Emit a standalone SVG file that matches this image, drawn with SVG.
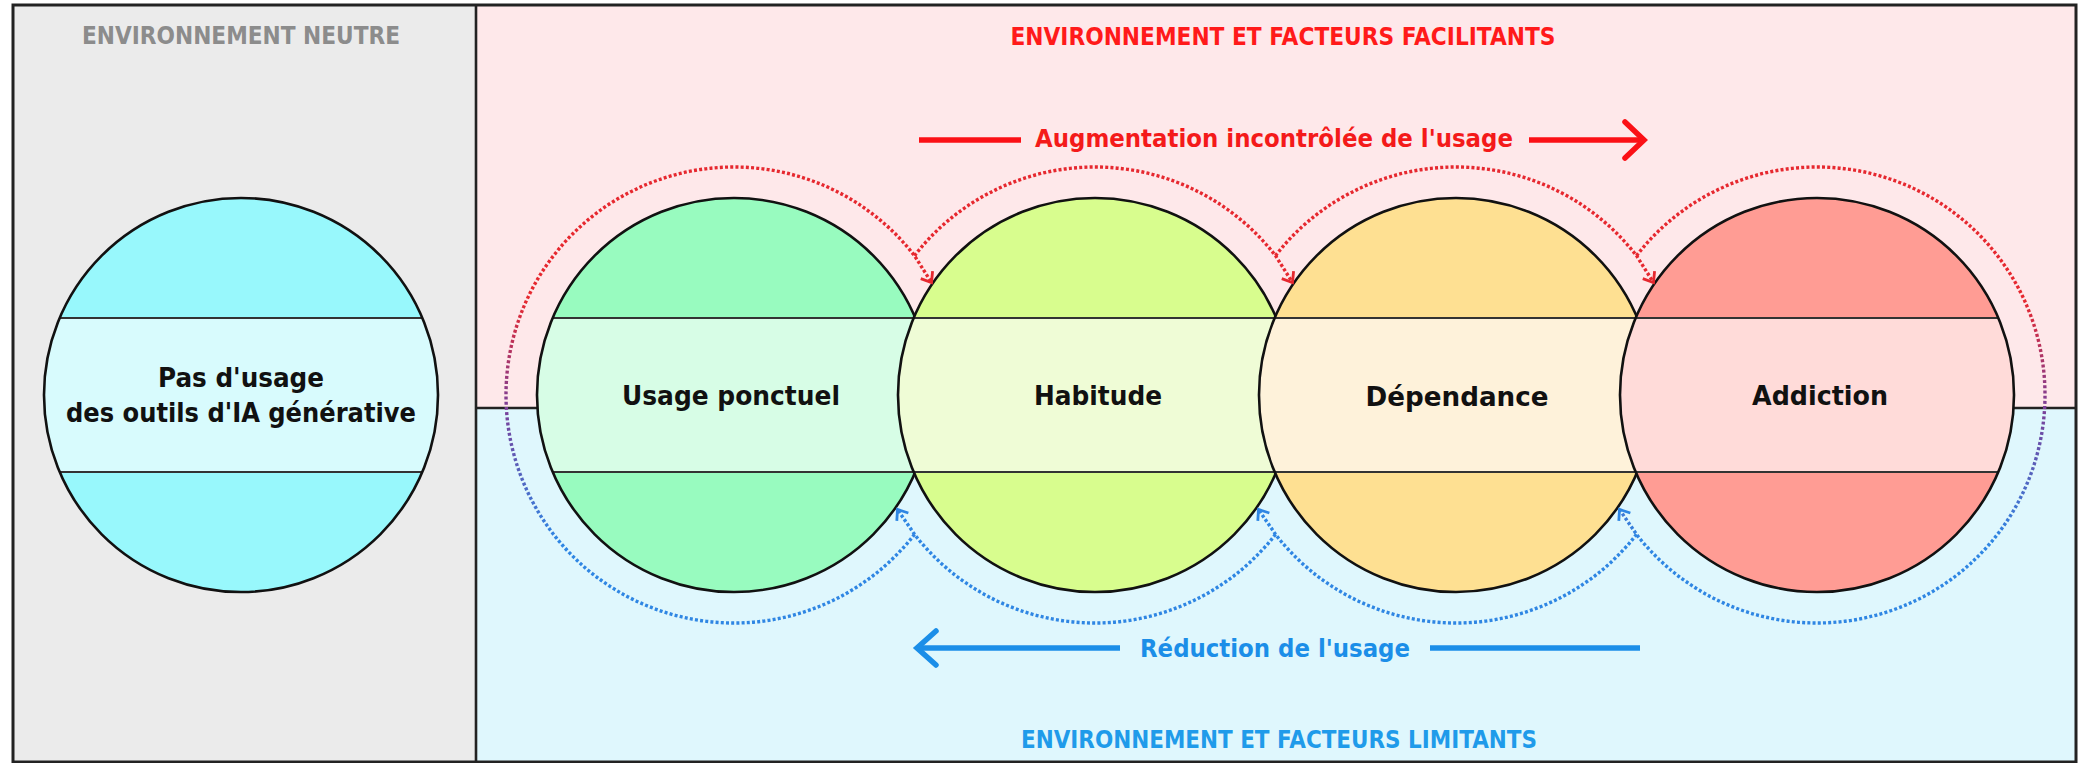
<svg xmlns="http://www.w3.org/2000/svg" width="2079" height="763" viewBox="0 0 2079 763">
  <defs>
    <style>
      .hdr { font-family: "DejaVu Sans", "Liberation Sans", sans-serif; font-weight: bold; font-size: 24px; text-anchor: middle; }
      .lbl { font-family: "DejaVu Sans", "Liberation Sans", sans-serif; font-weight: bold; font-size: 26px; text-anchor: middle; fill: #111; }
      .flow { font-family: "DejaVu Sans", "Liberation Sans", sans-serif; font-weight: bold; font-size: 25px; text-anchor: middle; }
      .outline { fill: none; stroke: #111; stroke-width: 2.6; }
      .bandline { stroke: #333; stroke-width: 2.2; }
      .dot { fill: none; stroke-width: 3.4; stroke-dasharray: 3 2.2; }
      .red { stroke: #e6282f; }
      .blue { stroke: #2f86e3; }
      .mix { stroke: url(#loopGrad); }
    </style>
    <linearGradient id="loopGrad" gradientUnits="userSpaceOnUse" x1="0" y1="300" x2="0" y2="540">
      <stop offset="0" stop-color="#e6282f"/>
      <stop offset="0.45" stop-color="#7b3f98"/>
      <stop offset="1" stop-color="#2f86e3"/>
    </linearGradient>
    <marker id="arrRed" markerUnits="userSpaceOnUse" markerWidth="18" markerHeight="18" refX="12" refY="9" orient="auto">
      <path d="M3,2 L12,9 L3,16" fill="none" stroke="#e6282f" stroke-width="2.8"/>
    </marker>
    <marker id="arrBlue" markerUnits="userSpaceOnUse" markerWidth="18" markerHeight="18" refX="12" refY="9" orient="auto">
      <path d="M3,2 L12,9 L3,16" fill="none" stroke="#2f86e3" stroke-width="2.8"/>
    </marker>
  </defs>

  <!-- panels -->
  <g id="panels">
    <rect x="0" y="0" width="2079" height="763" fill="#ffffff"/>
    <rect x="13" y="5" width="463" height="757" fill="#ebebeb"/>
    <rect x="476" y="5" width="1600" height="403" fill="#fee8ea"/>
    <rect x="476" y="408" width="1600" height="354" fill="#dff7fd"/>
    <line x1="476" y1="408" x2="2076" y2="408" stroke="#222" stroke-width="2.4"/>
    <line x1="476" y1="5" x2="476" y2="762" stroke="#222" stroke-width="2.6"/>
    <rect x="13" y="5" width="2063" height="757" fill="none" stroke="#222" stroke-width="3"/>
  </g>

  <g id="headers">
    <text class="hdr" x="241" y="44" fill="#8c8c8c" textLength="318" lengthAdjust="spacingAndGlyphs">ENVIRONNEMENT NEUTRE</text>
    <text class="hdr" x="1283" y="45" fill="#ff1a1a" textLength="545" lengthAdjust="spacingAndGlyphs">ENVIRONNEMENT ET FACTEURS FACILITANTS</text>
    <text class="hdr" x="1279" y="748" fill="#1f9bea" textLength="516" lengthAdjust="spacingAndGlyphs">ENVIRONNEMENT ET FACTEURS LIMITANTS</text>
  </g>

  <!-- nodes -->
  <g id="node-pas-usage">
    <circle cx="241" cy="395" r="197" fill="#98f8fc"/>
    <path d="M59.7,318 L422.3,318 A197,197 0 0 1 422.3,472 L59.7,472 A197,197 0 0 1 59.7,318 Z" fill="#d8fbfd"/>
    <line class="bandline" x1="59.7" y1="318" x2="422.3" y2="318"/>
    <line class="bandline" x1="59.7" y1="472" x2="422.3" y2="472"/>
    <circle class="outline" cx="241" cy="395" r="197"/>
    <text class="lbl" x="241" y="387" textLength="166" lengthAdjust="spacingAndGlyphs">Pas d'usage</text>
    <text class="lbl" x="241" y="422" textLength="350" lengthAdjust="spacingAndGlyphs">des outils d'IA générative</text>
  </g>

  <g id="node-usage-ponctuel">
    <circle cx="734" cy="395" r="197" fill="#98fbbf"/>
    <path d="M552.7,318 L915.3,318 A197,197 0 0 1 915.3,472 L552.7,472 A197,197 0 0 1 552.7,318 Z" fill="#d7fde6"/>
    <line class="bandline" x1="552.7" y1="318" x2="915.3" y2="318"/>
    <line class="bandline" x1="552.7" y1="472" x2="915.3" y2="472"/>
    <circle class="outline" cx="734" cy="395" r="197"/>
    <text class="lbl" x="731" y="405" textLength="218" lengthAdjust="spacingAndGlyphs">Usage ponctuel</text>
  </g>

  <g id="node-habitude">
    <circle cx="1095" cy="395" r="197" fill="#d8fd8e"/>
    <path d="M913.7,318 L1276.3,318 A197,197 0 0 1 1276.3,472 L913.7,472 A197,197 0 0 1 913.7,318 Z" fill="#effcd6"/>
    <line class="bandline" x1="913.7" y1="318" x2="1276.3" y2="318"/>
    <line class="bandline" x1="913.7" y1="472" x2="1276.3" y2="472"/>
    <circle class="outline" cx="1095" cy="395" r="197"/>
    <text class="lbl" x="1098" y="405" textLength="128" lengthAdjust="spacingAndGlyphs">Habitude</text>
  </g>

  <g id="node-dependance">
    <circle cx="1456" cy="395" r="197" fill="#fee092"/>
    <path d="M1274.7,318 L1637.3,318 A197,197 0 0 1 1637.3,472 L1274.7,472 A197,197 0 0 1 1274.7,318 Z" fill="#fef2da"/>
    <line class="bandline" x1="1274.7" y1="318" x2="1637.3" y2="318"/>
    <line class="bandline" x1="1274.7" y1="472" x2="1637.3" y2="472"/>
    <circle class="outline" cx="1456" cy="395" r="197"/>
    <text class="lbl" x="1457" y="406" textLength="183" lengthAdjust="spacingAndGlyphs">Dépendance</text>
  </g>

  <g id="node-addiction">
    <circle cx="1817" cy="395" r="197" fill="#ff9c94"/>
    <path d="M1635.7,318 L1998.3,318 A197,197 0 0 1 1998.3,472 L1635.7,472 A197,197 0 0 1 1635.7,318 Z" fill="#ffdbd9"/>
    <line class="bandline" x1="1635.7" y1="318" x2="1998.3" y2="318"/>
    <line class="bandline" x1="1635.7" y1="472" x2="1998.3" y2="472"/>
    <circle class="outline" cx="1817" cy="395" r="197"/>
    <text class="lbl" x="1820" y="405" textLength="136" lengthAdjust="spacingAndGlyphs">Addiction</text>
  </g>

  <!-- connectors -->
  <g id="connectors">
    <path class="dot mix" d="M914.5,534.3 A228,228 0 1 1 914.5,255.7 L931.5,282.5" marker-end="url(#arrRed)"/>
    <path class="dot red" d="M914.5,255.7 A228,228 0 0 1 1275.5,255.7 L1292.5,282.5" marker-end="url(#arrRed)"/>
    <path class="dot red" d="M1275.5,255.7 A228,228 0 0 1 1636.5,255.7 L1653.5,282.5" marker-end="url(#arrRed)"/>
    <path class="dot mix" d="M1636.5,255.7 A228,228 0 1 1 1636.5,534.3 L1619.5,509.5" marker-end="url(#arrBlue)"/>
    <path class="dot blue" d="M1636.5,534.3 A228,228 0 0 1 1275.5,534.3 L1258.5,509.5" marker-end="url(#arrBlue)"/>
    <path class="dot blue" d="M1275.5,534.3 A228,228 0 0 1 914.5,534.3 L897.5,509.5" marker-end="url(#arrBlue)"/>

    <g id="flow-augmentation">
      <line x1="919" y1="140" x2="1021" y2="140" stroke="#fb1016" stroke-width="5.5"/>
      <line x1="1529" y1="140" x2="1642" y2="140" stroke="#fb1016" stroke-width="5.5"/>
      <polyline points="1625,122 1644,140 1625,158" fill="none" stroke="#fb1016" stroke-width="5.5" stroke-linecap="round"/>
      <text class="flow" x="1274" y="147" fill="#f41a1a" textLength="478" lengthAdjust="spacingAndGlyphs">Augmentation incontrôlée de l'usage</text>
    </g>
    <g id="flow-reduction">
      <polyline points="936,631 917,648 936,665" fill="none" stroke="#1b8ee8" stroke-width="5.5" stroke-linecap="round"/>
      <line x1="919" y1="648" x2="1120" y2="648" stroke="#1b8ee8" stroke-width="5.5"/>
      <line x1="1430" y1="648" x2="1640" y2="648" stroke="#1b8ee8" stroke-width="5.5"/>
      <text class="flow" x="1275" y="657" fill="#1b8ee8" textLength="270" lengthAdjust="spacingAndGlyphs">Réduction de l'usage</text>
    </g>
  </g>
</svg>
